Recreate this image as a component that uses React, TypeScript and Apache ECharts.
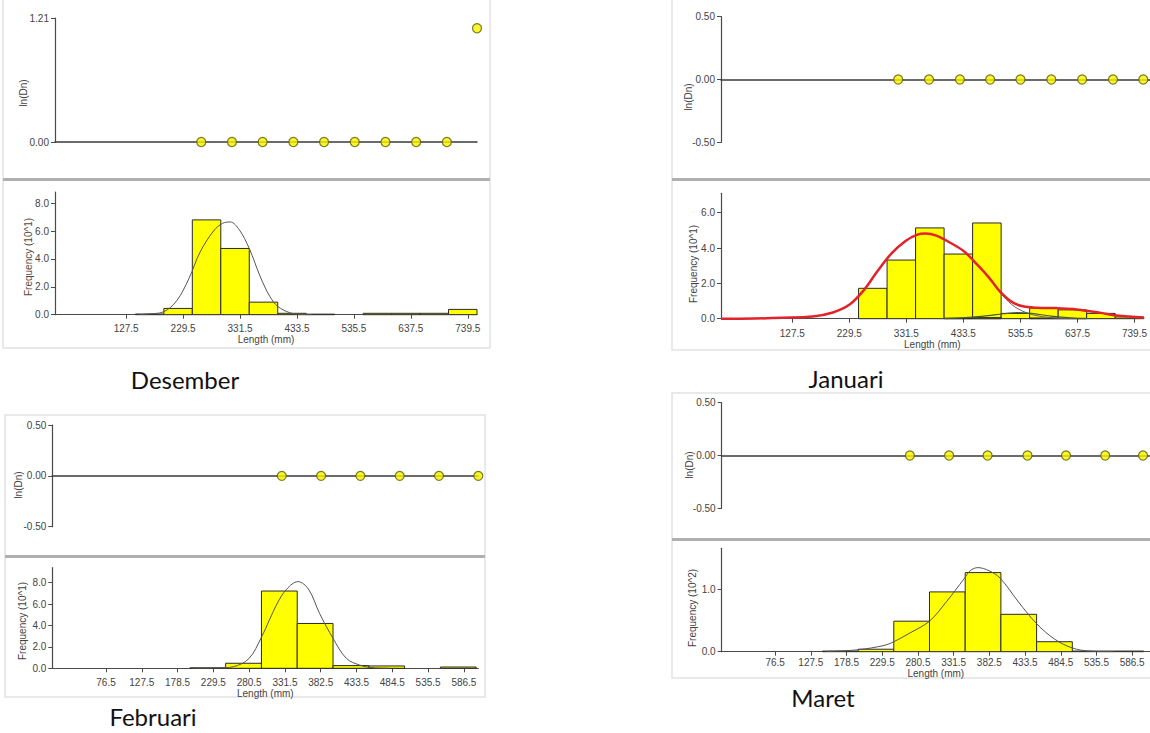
import React, { useEffect, useRef } from "react";
import * as echarts from "echarts";

const BIN = 51;

// ---------- Desember ----------
const desLnDnX = [262, 317, 372, 427, 482, 537, 592, 647, 702, 756];
const desLnDnY = [0, 0, 0, 0, 0, 0, 0, 0, 0, 1.11];
const desBinStart = [144, 195, 246, 297, 348, 399, 450, 552, 603, 654, 705];
const desFreq = [0.05, 0.45, 6.8, 4.75, 0.9, 0.1, 0.04, 0.1, 0.1, 0.1, 0.38];
const desCurveX = [150, 165, 194, 218, 240, 260, 284, 300, 314, 330, 348, 368, 385, 399, 420, 440, 460];
const desCurveY = [0, 0.05, 0.2, 1.0, 2.6, 4.5, 6.0, 6.55, 6.65, 6.1, 4.75, 2.7, 1.3, 0.6, 0.15, 0.02, 0];
const desXTicks = [127.5, 229.5, 331.5, 433.5, 535.5, 637.5, 739.5];
const desYTicks = [0, 2, 4, 6, 8];
const desLnTicks = [0, 1.21];

// ---------- Januari ----------
const janLnDnX = [316, 371, 426, 480, 534, 589, 644, 699, 753];
const janLnDnY = [0, 0, 0, 0, 0, 0, 0, 0, 0];
const janBinStart = [246, 297, 348, 399, 450, 501, 552, 603, 654, 705];
const janFreq = [1.72, 3.32, 5.14, 3.66, 5.42, 0.3, 0.6, 0.5, 0.3, 0.1];
const janBin2Start = [399, 450, 552, 603];
const janFreq2 = [0.03, 0.06, 0.04, 0.02];
const janRedX = [0, 60, 110, 164, 200, 230, 255, 280, 305, 330, 350, 366, 385, 410, 435, 460, 480, 500, 520, 540, 565, 600, 630, 652, 680, 703, 730, 756];
const janRedY = [0, 0.01, 0.05, 0.12, 0.35, 0.8, 1.6, 2.7, 3.7, 4.4, 4.75, 4.82, 4.7, 4.3, 3.8, 3.0, 2.3, 1.5, 0.95, 0.7, 0.62, 0.6, 0.55, 0.45, 0.33, 0.2, 0.12, 0.06];
const janGreyX = [435, 460, 480, 500, 520, 540, 560, 590, 620, 650];
const janGreyY = [3.8, 3.0, 2.3, 1.45, 0.8, 0.42, 0.2, 0.06, 0.01, 0];
const janCompX = [390, 430, 470, 505, 530, 555, 590, 630, 660];
const janCompY = [0, 0.05, 0.15, 0.28, 0.35, 0.3, 0.15, 0.04, 0];
const janXTicks = [127.5, 229.5, 331.5, 433.5, 535.5, 637.5, 739.5];
const janYTicks = [0, 2, 4, 6];
const janLnTicks = [-0.5, 0, 0.5];

// ---------- Februari ----------
const febLnDnX = [327, 383, 439, 495, 551, 607];
const febLnDnY = [0, 0, 0, 0, 0, 0];
const febBinStart = [196, 247, 298, 349, 400, 451, 553];
const febFreq = [0.04, 0.47, 7.22, 4.19, 0.25, 0.22, 0.12];
const febCurveX = [200, 236, 258, 280, 298, 320, 334, 350, 365, 381, 400, 419, 438, 457, 480];
const febCurveY = [0, 0.03, 0.15, 0.9, 2.9, 6.0, 7.4, 8.1, 7.4, 5.1, 2.8, 0.93, 0.3, 0.05, 0];
const febXTicks = [76.5, 127.5, 178.5, 229.5, 280.5, 331.5, 382.5, 433.5, 484.5, 535.5, 586.5];
const febYTicks = [0, 2, 4, 6, 8];
const febLnTicks = [-0.5, 0, 0.5];

// ---------- Maret ----------
const marLnDnX = [269, 325, 380, 437, 492, 548, 602];
const marLnDnY = [0, 0, 0, 0, 0, 0, 0];
const marBinStart = [144, 195, 246, 297, 348, 399, 450, 501, 552];
const marFreq = [0.01, 0.04, 0.49, 0.96, 1.27, 0.6, 0.16, 0.01, 0.01];
const marCurveX = [150, 194, 232, 246, 269, 297, 321, 347, 355, 366, 382, 398, 424, 450, 476, 501, 525, 560];
const marCurveY = [0.005, 0.03, 0.1, 0.16, 0.3, 0.49, 0.8, 1.18, 1.3, 1.35, 1.3, 1.18, 0.8, 0.45, 0.2, 0.06, 0.01, 0];
const marXTicks = [76.5, 127.5, 178.5, 229.5, 280.5, 331.5, 382.5, 433.5, 484.5, 535.5, 586.5];
const marYTicks = [0, 1];
const marLnTicks = [-0.5, 0, 0.5];

const FONT = "'Liberation Sans', Arial, sans-serif";
const AX = "#4a4a4a";
const TXT = "#444";

const zip = (xs: number[], ys: number[]) => xs.map((x, i) => [x, ys[i]]);
const bins = (starts: number[], vals: number[]) => starts.map((s, i) => [s, s + BIN, vals[i]]);

export default function App() {
  const ref = useRef<HTMLDivElement>(null);

  useEffect(() => {
    if (!ref.current) return;
    const chart = echarts.init(ref.current, undefined, { renderer: "svg" });

    const grids = [
      { left: 55, top: 18, width: 422, height: 124 },
      { left: 55, top: 192, width: 422, height: 122.7 },
      { left: 721, top: 16.7, width: 429, height: 125.6 },
      { left: 721, top: 193.3, width: 424, height: 125.4 },
      { left: 52.3, top: 425, width: 426, height: 101.7 },
      { left: 52.3, top: 567.7, width: 426, height: 100.6 },
      { left: 721.6, top: 402.7, width: 435.6, height: 105.6 },
      { left: 721.6, top: 548.3, width: 435.6, height: 103.4 },
    ];

    const xAxes: any[] = [];
    const yAxes: any[] = [];
    const series: any[] = [];

    const labelStyle = { color: TXT, fontSize: 10, fontFamily: FONT };

    const addTop = (gi: number, xmax: number, ymin: number, ymax: number, ticks: number[], px: number[], py: number[]) => {
      xAxes.push({
        type: "value", gridIndex: gi, min: 0, max: xmax,
        axisLine: { show: true, onZero: true, lineStyle: { color: "#3a3a3a", width: 1.5 } },
        axisTick: { show: false }, axisLabel: { show: false }, splitLine: { show: false },
      });
      yAxes.push({
        type: "value", gridIndex: gi, min: ymin, max: ymax,
        axisLine: { show: true, onZero: false, lineStyle: { color: AX, width: 1.2 } },
        axisTick: { show: true, length: 4, customValues: ticks, lineStyle: { color: AX } },
        axisLabel: { ...labelStyle, customValues: ticks, margin: 6, formatter: (v: number) => v.toFixed(2) },
        splitLine: { show: false },
      });
      series.push({
        type: "scatter", xAxisIndex: gi, yAxisIndex: gi, data: zip(px, py),
        symbol: "circle", symbolSize: 9, z: 5,
        itemStyle: { color: "#f7f300", borderColor: "#5c5c00", borderWidth: 1.2 },
      });
    };

    const addBottom = (gi: number, xmax: number, ymax: number, xticks: number[], yticks: number[], nameGap: number, labelMargin: number) => {
      xAxes.push({
        type: "value", gridIndex: gi, min: 0, max: xmax,
        name: "Length (mm)", nameLocation: "middle", nameGap,
        nameTextStyle: { ...labelStyle },
        axisLine: { show: true, onZero: false, lineStyle: { color: AX, width: 1.2 } },
        axisTick: { show: true, length: 4, customValues: xticks, lineStyle: { color: AX } },
        axisLabel: { ...labelStyle, customValues: xticks, margin: labelMargin, formatter: (v: number) => v.toFixed(1) },
        splitLine: { show: false },
      });
      yAxes.push({
        type: "value", gridIndex: gi, min: 0, max: ymax,
        axisLine: { show: true, onZero: false, lineStyle: { color: AX, width: 1.2 } },
        axisTick: { show: true, length: 4, customValues: yticks, lineStyle: { color: AX } },
        axisLabel: { ...labelStyle, customValues: yticks, margin: 6, formatter: (v: number) => v.toFixed(1) },
        splitLine: { show: false },
      });
    };

    const addBars = (gi: number, data: number[][], fill = "#ffff00") => {
      series.push({
        type: "custom", xAxisIndex: gi, yAxisIndex: gi, data, z: 2,
        encode: { x: [0, 1], y: 2 },
        renderItem: (_p: any, api: any) => {
          const p0 = api.coord([api.value(0), 0]);
          const p1 = api.coord([api.value(1), api.value(2)]);
          return {
            type: "rect",
            shape: { x: p0[0], y: p1[1], width: p1[0] - p0[0], height: p0[1] - p1[1] },
            style: { fill, stroke: "#2a2a2a", lineWidth: 1 },
          };
        },
      });
    };

    const addCurve = (gi: number, data: number[][], color: string, width: number, z = 4) => {
      series.push({
        type: "line", xAxisIndex: gi, yAxisIndex: gi, data, smooth: 0.35,
        symbol: "none", z, lineStyle: { color, width }, silent: true,
      });
    };

    // Desember
    addTop(0, 756, 0, 1.21, desLnTicks, desLnDnX, desLnDnY);
    addBottom(1, 756, 8.8, desXTicks, desYTicks, 19, 9);
    addBars(1, bins(desBinStart, desFreq));
    addCurve(1, zip(desCurveX, desCurveY), "#555", 1);

    // Januari
    addTop(2, 765, -0.5, 0.5, janLnTicks, janLnDnX, janLnDnY);
    addBottom(3, 756, 7.1, janXTicks, janYTicks, 20, 10);
    addBars(3, bins(janBinStart, janFreq));
    addBars(3, bins(janBin2Start, janFreq2), "#d8d800");
    addCurve(3, zip(janGreyX, janGreyY), "#666", 1, 3);
    addCurve(3, zip(janCompX, janCompY), "#4b5a2a", 1.2, 3);
    addCurve(3, zip(janRedX, janRedY), "#e3232a", 2.5, 4);

    // Februari
    addTop(4, 607, -0.5, 0.5, febLnTicks, febLnDnX, febLnDnY);
    addBottom(5, 607, 9.4, febXTicks, febYTicks, 19, 9);
    addBars(5, bins(febBinStart, febFreq));
    addCurve(5, zip(febCurveX, febCurveY), "#555", 1);

    // Maret
    addTop(6, 612, -0.5, 0.5, marLnTicks, marLnDnX, marLnDnY);
    addBottom(7, 612, 1.66, marXTicks, marYTicks, 15, 6);
    addBars(7, bins(marBinStart, marFreq));
    addCurve(7, zip(marCurveX, marCurveY), "#555", 1);

    const frame = (x: number, y: number, w: number, h: number, sepY: number) => [
      { type: "rect", shape: { x, y, width: w, height: h }, style: { fill: "#fff", stroke: "#e2e2e2", lineWidth: 1.5 }, z: -10 },
      { type: "line", shape: { x1: x, y1: sepY, x2: x + w, y2: sepY }, style: { stroke: "#b0b0b0", lineWidth: 3 }, z: -9 },
    ];

    const vText = (text: string, x: number, y: number, color = TXT) => ({
      type: "text", x, y, rotation: Math.PI / 2, z: 10,
      style: { text, fill: color, font: `10px ${FONT}`, align: "center", verticalAlign: "middle", textAlign: "center", textVerticalAlign: "middle" },
    });

    const title = (text: string, x: number, y: number) => ({
      type: "text", x, y, z: 10,
      style: { text, fill: "#111", font: "24px Lato, 'Open Sans', sans-serif", align: "center", verticalAlign: "middle", textAlign: "center", textVerticalAlign: "middle" },
    });

    const graphic = [
      ...frame(3, -2, 487, 350, 179.5),
      ...frame(672, -2, 480, 352, 179.5),
      ...frame(5, 415, 480, 282, 556.5),
      ...frame(672, 393, 480, 285, 539.5),
      vText("ln(Dn)", 23, 93),
      vText("ln(Dn)", 688, 97),
      vText("ln(Dn)", 18, 485),
      vText("ln(Dn)", 689, 465),
      vText("Frequency (10^1)", 28, 257, "#5a4a3c"),
      vText("Frequency (10^1)", 693, 264),
      vText("Frequency (10^1)", 22, 621),
      vText("Frequency (10^2)", 692, 608),
      title("Desember", 185, 379),
      title("Januari", 846, 378),
      title("Februari", 153, 716),
      title("Maret", 823, 697),
    ];

    chart.setOption({
      animation: false,
      backgroundColor: "#ffffff",
      grid: grids,
      xAxis: xAxes,
      yAxis: yAxes,
      series,
      graphic,
    });

    return () => chart.dispose();
  }, []);

  return (
    <div
      ref={ref}
      style={{ position: "absolute", left: 0, top: 0, width: 1150, height: 733 }}
    />
  );
}
